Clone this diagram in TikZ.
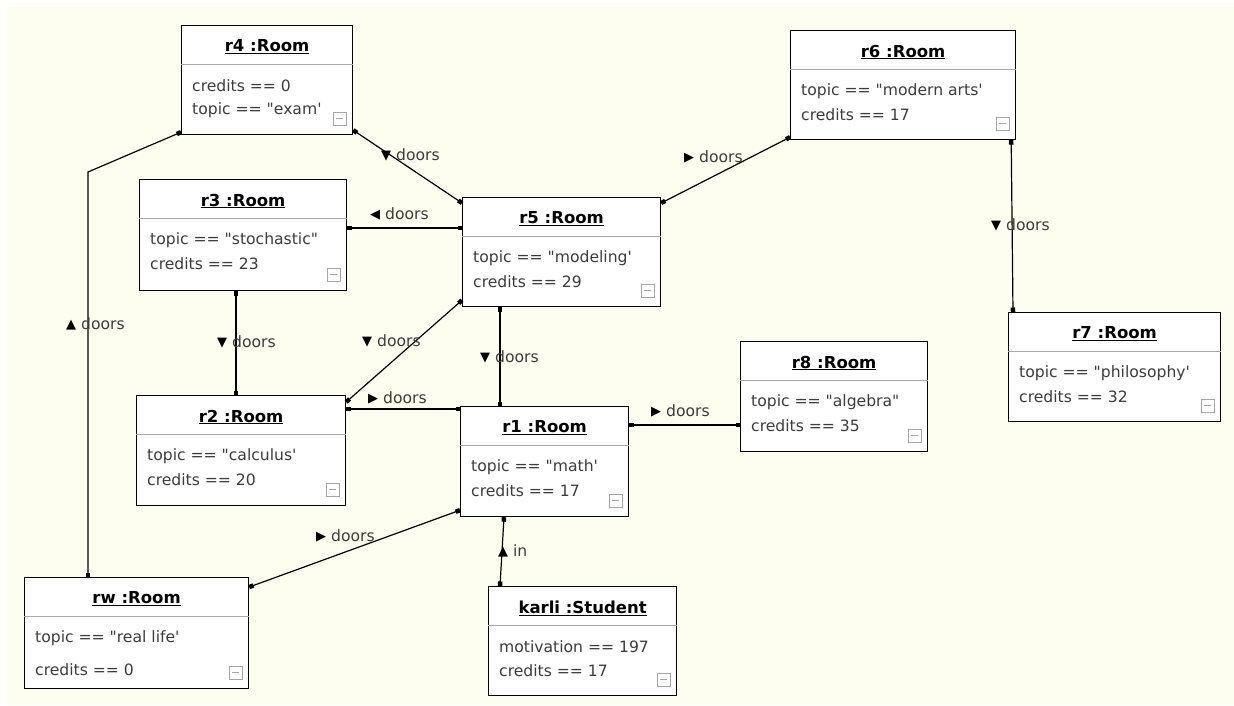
\documentclass[tikz,border=0pt]{standalone}
\usepackage{fontspec}
\setmainfont{DejaVu Sans}[Ligatures=TeXOff]
\usepackage{xcolor}
\usetikzlibrary{arrows.meta}
\definecolor{paper}{HTML}{FEFEF0}
\definecolor{ink}{HTML}{3C3C3C}
\definecolor{rulegray}{HTML}{A8A8A8}
\tikzset{
  room/.style={draw=black,fill=white,line width=1.2pt,inner sep=0pt,anchor=north west},
  sep/.style={draw=rulegray,line width=0.9pt},
  ttl/.style={inner sep=0pt,font=\fontsize{16.5}{18}\selectfont\bfseries},
  att/.style={inner sep=0pt,anchor=west,text=ink,font=\fontsize{15.6}{17}\selectfont},
  mini/.style={draw=gray!70,line width=0.8pt},
  lnk/.style={line width=1.2pt,{Square[length=4.5pt,width=4.5pt]}-{Square[length=4.5pt,width=4.5pt]}},
  lbl/.style={inner sep=0pt,anchor=west,text=ink,font=\fontsize{15.6}{17}\selectfont}
}
\newcommand{\tri}[1]{{\color{black}\fontsize{13}{13}\selectfont\raisebox{0.5pt}{#1}}}
% #1 offset of second attribute, #2 name, #3/#4 top left, #5/#6 size
\newcommand{\room}[9][85]{%
  \node[room,minimum width=#5pt,minimum height=#6pt] (#2) at (#3,#4) {};
  \draw[sep] ([yshift=-39pt]#2.north west) -- ([yshift=-39pt]#2.north east);
  \node[ttl] (#2-t) at ([yshift=-22pt]#2.north) {\underline{#7}};
  \node[att] (#2-a) at ([xshift=11pt,yshift=-61pt]#2.north west) {#8};
  \node[att] (#2-b) at ([xshift=11pt,yshift=-#1pt]#2.north west) {#9};
  \draw[mini] ([xshift=-20pt,yshift=10pt]#2.south east) rectangle ++(13pt,13pt);
  \draw[mini] ([xshift=-17pt,yshift=16.5pt]#2.south east) -- ++(7pt,0pt);
}

\begin{document}
\begin{tikzpicture}[x=1pt,y=-1pt]
\fill[white] (0,0) rectangle (1234,705);
\fill[paper] (7,7) rectangle (1234,705);
\useasboundingbox (0,0) rectangle (1234,705);

% objects
\room{r4}{181}{25}{171}{109}{r4 :Room}{credits == 0}{topic == "exam'}
\room{r6}{790}{30}{225}{109}{r6 :Room}{topic == "modern arts'}{credits == 17}
\room{r3}{139}{179}{207}{111}{r3 :Room}{topic == "stochastic"}{credits == 23}
\room{r5}{462}{197}{198}{109}{r5 :Room}{topic == "modeling'}{credits == 29}
\room{r7}{1008}{312}{212}{109}{r7 :Room}{topic == "philosophy'}{credits == 32}
\room{r8}{740}{341}{187}{110}{r8 :Room}{topic == "algebra"}{credits == 35}
\room{r2}{136}{395}{209}{110}{r2 :Room}{topic == "calculus'}{credits == 20}
\room{r1}{460}{406}{168}{110}{r1 :Room}{topic == "math'}{credits == 17}
\room[93]{rw}{24}{577}{224}{111}{rw :Room}{topic == "real life'}{credits == 0}
\room{karli}{488}{586}{188}{109}{karli :Student}{motivation == 197}{credits == 17}

% links
\coordinate (bend) at (88,172);
\draw[lnk] ([yshift=3pt]r4.south west) -- (bend) -- (bend |- rw.north);
\draw[lnk] ([yshift=5pt]r4.south east) -- ([yshift=-6pt]r5.north west);
\draw[lnk] ([yshift=-49pt]r3.north east) -- ([yshift=-49pt]r3.north east -| r5.west);
\draw[lnk] ([yshift=3pt]r6.south west) -- ([yshift=-6pt]r5.north east);
\draw[lnk] ([xshift=-5pt]r6.south east) -- ([xshift=5pt]r7.north west);
\draw[lnk] ([xshift=97pt]r3.south west) -- ([xshift=97pt]r3.south west |- r2.north);
\draw[lnk] ([yshift=7pt]r5.south west) -- ([yshift=-7pt]r2.north east);
\draw[lnk] ([xshift=38pt]r5.south west) -- ([xshift=38pt]r5.south west |- r1.north);
\draw[lnk] ([yshift=-14pt]r2.north east) -- ([yshift=-14pt]r2.north east -| r1.west);
\draw[lnk] ([yshift=-19pt]r1.north east) -- ([yshift=-19pt]r1.north east -| r8.west);
\draw[lnk] ([yshift=7pt]r1.south west) -- ([yshift=-10pt]rw.north east);
\draw[lnk] ([xshift=44pt]r1.south west) -- ([xshift=12pt]karli.north west);

% link labels
\node[lbl] (d1) at (66,324) {\tri{▲} doors};
\node[lbl] (d2) at (381,155) {\tri{▼} doors};
\node[lbl] (d3) at (370,214) {\tri{◀} doors};
\node[lbl] (d4) at (684,157) {\tri{▶} doors};
\node[lbl] (d5) at (991,225) {\tri{▼} doors};
\node[lbl] (d6) at (217,342) {\tri{▼} doors};
\node[lbl] (d7) at (362,341) {\tri{▼} doors};
\node[lbl] (d8) at (480,357) {\tri{▼} doors};
\node[lbl] (d9) at (368,398) {\tri{▶} doors};
\node[lbl] (d10) at (651,411) {\tri{▶} doors};
\node[lbl] (d11) at (316,536) {\tri{▶} doors};
\node[lbl] (d12) at (498,551) {\tri{▲} in};
\end{tikzpicture}
\end{document}
